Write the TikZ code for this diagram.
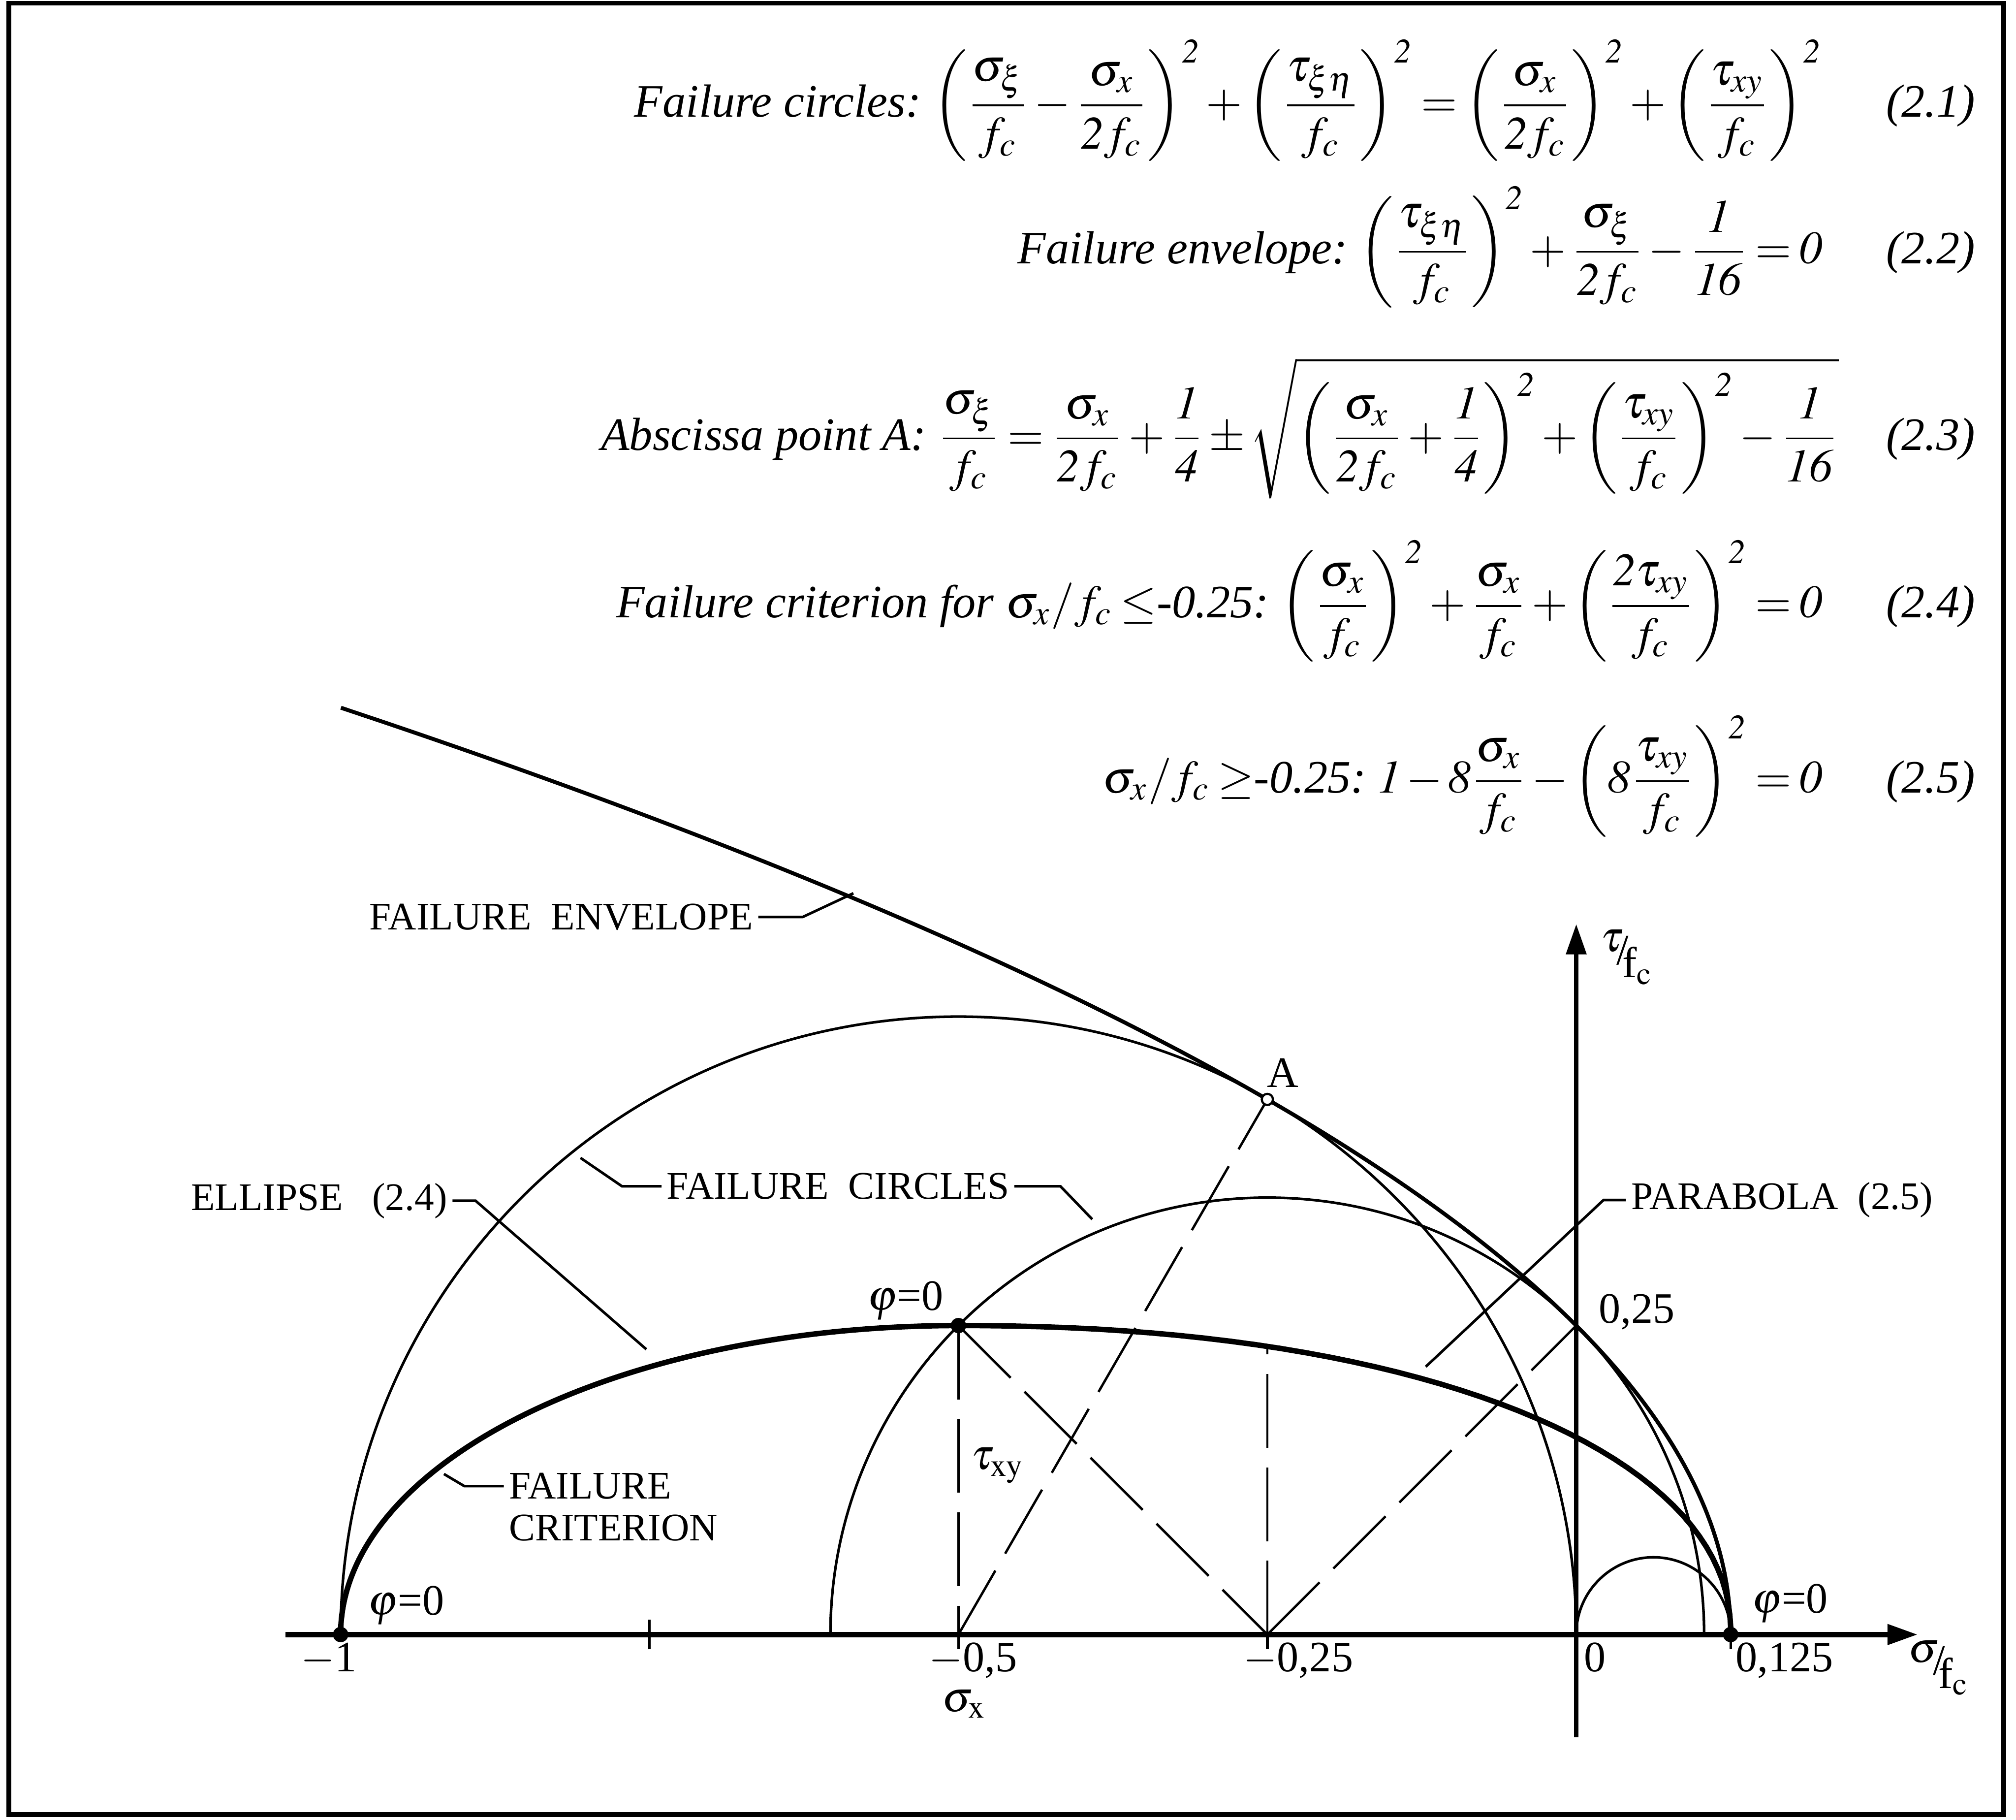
\documentclass[tikz,border=0pt]{standalone}
\usepackage{mathptmx}
\usepackage[no-math]{fontspec}
\setmainfont{Liberation Serif}
\usetikzlibrary{positioning, arrows.meta}
% italic digits in the formulas
\DeclareSymbolFont{itdigits}{OT1}{ptm}{m}{it}
\DeclareMathSymbol{0}{\mathalpha}{itdigits}{`0}
\DeclareMathSymbol{1}{\mathalpha}{itdigits}{`1}
\DeclareMathSymbol{2}{\mathalpha}{itdigits}{`2}
\DeclareMathSymbol{3}{\mathalpha}{itdigits}{`3}
\DeclareMathSymbol{4}{\mathalpha}{itdigits}{`4}
\DeclareMathSymbol{5}{\mathalpha}{itdigits}{`5}
\DeclareMathSymbol{6}{\mathalpha}{itdigits}{`6}
\DeclareMathSymbol{7}{\mathalpha}{itdigits}{`7}
\DeclareMathSymbol{8}{\mathalpha}{itdigits}{`8}
\DeclareMathSymbol{9}{\mathalpha}{itdigits}{`9}
\medmuskip = 2mu\relax
\thickmuskip = 3mu\relax
\tikzset{
  > = {Triangle[length = 7pt, width = 4.5pt]},   % filled axis heads
  frame/.style = {line width = 1.1pt},
  axis/.style = {->, line width = 1.1pt},
  circ/.style = {line width = 0.6pt},
  envelope/.style = {line width = 0.9pt},
  criterion/.style = {line width = 1.25pt, line join = round},
  construction/.style = {line width = 0.55pt, dash pattern = on 17pt off 4.5pt},
  leader/.style = {line width = 0.6pt},
  eq/.style = {inner sep = 0pt, font = \fontsize{10.7}{13}\selectfont\itshape},
  lbl/.style = {inner sep = 1pt, font = \fontsize{9}{10}\selectfont},
  num/.style = {inner sep = 0pt, font = \fontsize{10}{11}\selectfont}
}
\def \tagsep {5mm}
\def \tagx {0.3236}

\begin{document}
\begin{tikzpicture}[x = 10cm, y = 10cm]
\useasboundingbox (-1.2757,-0.1498) rectangle (0.3559,1.3226);
\draw [frame] (-1.2685,-0.1457) rectangle (0.346,1.3200);

%% Formulas
\node [eq, anchor = base east] (tag1) at (\tagx,1.228) {(2.1)};
\node [eq, base left = \tagsep of tag1] (eq1) {Failure circles:\ $\displaystyle
  \left(\frac{\sigma_\xi}{f_c}-\frac{\sigma_x}{2f_c}\right)^{2}
  +\left(\frac{\tau_{\xi\eta}}{f_c}\right)^{2}
  =\left(\frac{\sigma_x}{2f_c}\right)^{2}
  +\left(\frac{\tau_{xy}}{f_c}\right)^{2}$};
\node [eq, anchor = base east] (tag2) at (\tagx,1.1094) {(2.2)};
\node [eq, base left = \tagsep of tag2] (eq2) {Failure envelope:\ $\displaystyle
  \left(\frac{\tau_{\xi\eta}}{f_c}\right)^{2}+\frac{\sigma_\xi}{2f_c}-\frac{1}{16}=0$};
\node [eq, anchor = base east] (tag3) at (\tagx,0.9585) {(2.3)};
\node [eq, base left = 3.7mm of tag3] (eq3) {Abscissa point A:\ $\displaystyle
  \frac{\sigma_\xi}{f_c}=\frac{\sigma_x}{2f_c}+\frac{1}{4}\pm
  \sqrt{\left(\frac{\sigma_x}{2f_c}+\frac{1}{4}\right)^{2}
  +\left(\frac{\tau_{xy}}{f_c}\right)^{2}-\frac{1}{16}}$};
\node [eq, anchor = base east] (tag4) at (\tagx,0.8228) {(2.4)};
\node [eq, base left = \tagsep of tag4] (eq4) {Failure criterion for
  $\sigma_x/f_c\le$-0.25:\ $\displaystyle
  \left(\frac{\sigma_x}{f_c}\right)^{2}+\frac{\sigma_x}{f_c}
  +\left(\frac{2\tau_{xy}}{f_c}\right)^{2}=0$};
\node [eq, anchor = base east] (tag5) at (\tagx,0.681) {(2.5)};
\node [eq, base left = \tagsep of tag5] (eq5) {$\sigma_x/f_c\ge$-0.25:\ $\displaystyle
  1-8\frac{\sigma_x}{f_c}-\left(8\frac{\tau_{xy}}{f_c}\right)^{2}=0$};

%% Axes
\draw [axis, line width = 1.3pt] (-1.0447,0) -- (0.2765,0);
\draw [axis] (0,-0.083) -- (0,0.575);
\draw [circ] (-0.75,-0.012) -- (-0.75,0.012);
\foreach \t in {-0.5,-0.25,0.125}
  \draw [circ] (\t,0) -- (\t,-0.012);

%% Points
\coordinate (O) at (0,0);
\coordinate (pL) at (-1,0);
\coordinate (pM) at (-0.5,0.25);
\coordinate (pR) at (0.125,0);
\coordinate (sx) at (-0.5,0);
\coordinate (cx) at (-0.25,0);
\coordinate (A) at (-0.25,0.4330);
\coordinate (t25) at (0,0.25);
\coordinate (cT) at (-0.25,0.2348);

%% Failure circles
\draw [circ] (pL) arc [start angle = 180, end angle = 0, radius = 0.5];
\draw [circ] (-0.6036,0) arc [start angle = 180, end angle = 0, radius = 0.35355];
\draw [circ] (O) arc [start angle = 180, end angle = 0, radius = 0.0625];

%% Failure envelope
\draw [envelope] plot [domain = 0:0.75, samples = 60, smooth] ({0.125-2*\x*\x}, \x);

%% Failure criterion: ellipse (2.4), then parabola side
\draw [criterion] (pL) arc [start angle = 180, end angle = 90, x radius = 0.5, y radius = 0.25]
  -- plot [domain = 89:1, samples = 45]
     ({-0.5+0.625*pow(cos(\x),0.93)}, {0.25*pow(sin(\x),0.93)}) -- (pR);

%% Construction lines
\draw [construction] (sx) -- (A);
\draw [construction] (pM) -- (sx);
\draw [construction] (pM) -- (cx);
\draw [construction] (cx) -- (t25);
\draw [construction] (cx) -- (cT);

\foreach \p in {pL, pM, pR}
  \fill (\p) circle [radius = 0.0062];
\draw [line width = 0.5pt, fill = white] (A) circle [radius = 0.0045];

%% Curve names
\coordinate (envpt) at (-0.585,0.5998);
\coordinate (ellpt) at (-0.7526,0.2308);
\coordinate (circpt1) at (-0.8059,0.3857);
\coordinate (circpt2) at (-0.3917,0.336);
\coordinate (critpt) at (-0.9164,0.1299);
\coordinate (parpt) at (-0.1218,0.2167);

\node [lbl, anchor = east] (envlbl) at (-0.662,0.5806) {FAILURE\enspace ENVELOPE};
\draw [leader] (envlbl.east) -- ++(0.036,0) -- (envpt);
\node [lbl, anchor = east] (elllbl) at (-0.9095,0.351) {ELLIPSE\enspace\ (2.4)};
\draw [leader] (elllbl.east) -- ++(0.0187,0) -- (ellpt);
\node [lbl] (circlbl) at (-0.5975,0.3627) {FAILURE\enspace CIRCLES};
\draw [leader] (circlbl.west) -- ++(-0.032,0) -- (circpt1);
\draw [leader] (circlbl.east) -- ++(0.0373,0) -- (circpt2);
\node [lbl, anchor = west] (crit1) at (-0.8679,0.1201) {FAILURE};
\node [lbl, below = 1.2pt of crit1.south west, anchor = north west] (crit2) {CRITERION};
\draw [leader] (crit1.west) -- ++(-0.032,0) -- (critpt);
\node [lbl, anchor = west] (parlbl) at (0.0403,0.3516) {PARABOLA\enspace (2.5)};
\draw [leader] (parlbl.west) -- ++(-0.0182,0) -- (parpt);

%% Point labels
\node [num] (Albl) at (-0.2374,0.4546) {A};
\node [num] (txy) at (-0.468,0.1368) {$\tau_{\mathrm{xy}}$};
\node [num] (phiL) at (-0.947,0.0235) {$\varphi$=0};
\node [num] (phiM) at (-0.543,0.270) {$\varphi$=0};
\node [num] (phiR) at (0.173,0.025) {$\varphi$=0};

%% Axis labels
\node [num, anchor = base] (xm1) at (-1.0095,-0.030) {$-$1};
\node [num, anchor = base] (xm05) at (-0.488,-0.030) {$-$0,5};
\node [num, anchor = base] (xm025) at (-0.225,-0.030) {$-$0,25};
\node [num, anchor = base] (x0) at (0.015,-0.030) {0};
\node [num, anchor = base] (x0125) at (0.1685,-0.030) {0,125};
\node [num] (sigx) at (-0.495,-0.056) {$\sigma_{\mathrm{x}}$};
\node [num] (y025) at (0.049,0.261) {0,25};
\node [num] (sigfc) at (0.2936,-0.027)
  {\raisebox{3pt}{$\sigma$}\kern-1.5pt/\kern-1.5pt\raisebox{-3pt}{f$_{\mathrm{c}}$}};
\node [num] (taufc) at (0.041,0.548)
  {\raisebox{3pt}{$\tau$}\kern-1.5pt/\kern-1.5pt\raisebox{-3pt}{f$_{\mathrm{c}}$}};

\end{tikzpicture}
\end{document}
